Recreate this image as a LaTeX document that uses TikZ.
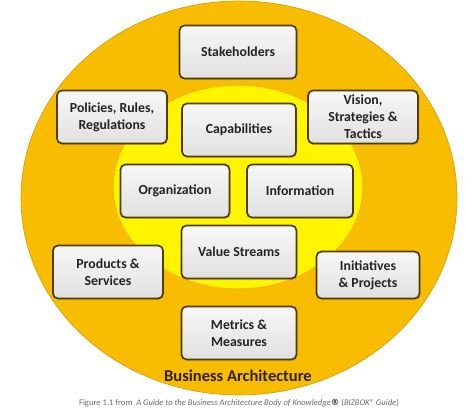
\documentclass[tikz,border=0pt]{standalone}
\usepackage{fontspec}
\setmainfont{Carlito}
\newfontfamily\symbolfont{DejaVu Sans}
\usetikzlibrary{shadows}

\definecolor{outergold}{HTML}{F8BC00}
\definecolor{outeredge}{HTML}{D49A00}
\definecolor{inneryellow}{HTML}{FFF500}
\definecolor{inneredge}{HTML}{F2B800}
\definecolor{boxedge}{HTML}{4E3E06}
\definecolor{boxtext}{HTML}{232323}
\definecolor{titlebrown}{HTML}{2E2002}
\definecolor{captiongray}{HTML}{6A6A6A}

\begin{document}
\begin{tikzpicture}[x=1pt, y=-1pt,
  block/.style={rectangle, draw=boxedge, line width=1.7pt, rounded corners=5pt,
    top color=gray!6, bottom color=gray!24, minimum width=110pt, minimum height=53pt,
    align=center, text=boxtext, font=\bfseries\fontsize{13.8}{17}\selectfont,
    drop shadow={opacity=0.3, shadow xshift=1pt, shadow yshift=-1.5pt}}]

\useasboundingbox (0,0) rectangle (474,414);

% Define the coordinates for the centres of the blocks
\coordinate (stake) at (238,52);
\coordinate (policy) at (112,117);
\coordinate (capab) at (239,130);
\coordinate (vision) at (363,117);
\coordinate (organ) at (175,191);
\coordinate (inform) at (300,191);
\coordinate (value) at (239,252);
\coordinate (prod) at (108,272);
\coordinate (initia) at (368,275);
\coordinate (metric) at (239,333);

% Draw the two rings
\fill[outergold, draw=outeredge, line width=0.6pt] (239,198) ellipse [x radius=218, y radius=197];
\fill[inneryellow, draw=inneredge, line width=1pt] (238,187) ellipse [x radius=125, y radius=102];

% Place the blocks
\node[block, minimum width=117pt] (stakeholders) at (stake) {Stakeholders};
\node[block] (policies) at (policy) {Policies, Rules,\\Regulations};
\node[block, minimum width=114pt] (capabilities) at (capab) {Capabilities};
\node[block] (visionbox) at (vision) {Vision,\\Strategies \&\\Tactics};
\node[block, minimum width=109pt] (organization) at (organ) {Organization};
\node[block, minimum width=106pt] (information) at (inform) {Information};
\node[block, minimum width=115pt] (valuestreams) at (value) {Value Streams};
\node[block] (products) at (prod) {Products \&\\Services};
\node[block, minimum width=103pt, minimum height=47pt] (initiatives) at (initia) {Initiatives\\\& Projects};
\node[block, minimum width=115pt] (metrics) at (metric) {Metrics \&\\Measures};

% Title and caption
\node[text=titlebrown, font=\bfseries\fontsize{16.5}{20}\selectfont] (title) at (238,376) {Business Architecture};
\node[text=captiongray, font=\fontsize{8.6}{10}\selectfont] (caption) at (239,403)
  {Figure 1.1 from \ \textit{A Guide to the Business Architecture Body of Knowledge}{\symbolfont\bfseries\textcolor{black!80}{®}} (\textit{BIZBOK® Guide})};

\end{tikzpicture}
\end{document}
